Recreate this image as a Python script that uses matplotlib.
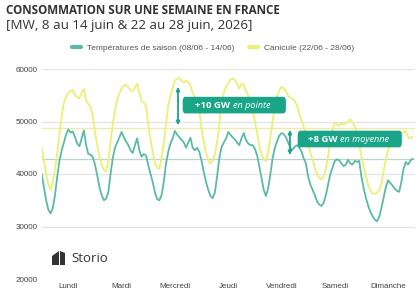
"""Consommation électrique sur une semaine en France : saison vs canicule."""

import matplotlib
matplotlib.use("Agg")
import matplotlib.pyplot as plt
from matplotlib.patches import FancyBboxPatch, Polygon

# --- données (MW, pas horaire, lundi 0h -> dimanche 23h) ---
SAISON = [
    40000, 37500, 35000, 33200, 32500, 33500, 36000, 39500, 42500, 44500, 46000, 47500,
    48500, 47900, 48100, 47000, 45800, 45300, 46800, 48300, 45500, 43800, 43700, 43200,  # lundi
    41800, 39800, 37500, 36000, 35000, 35300, 36500, 40000, 43000, 45000, 46000, 47000,
    48000, 47000, 46200, 45500, 44500, 44000, 45500, 46800, 44500, 43300, 43800, 43500,  # mardi
    41700, 40000, 38500, 36500, 35200, 35000, 36000, 38500, 42000, 44200, 45800, 46800,
    48200, 47500, 47000, 46500, 46000, 45000, 46000, 46900, 45000, 44500, 45000, 44200,  # mercredi
    42500, 40400, 38500, 37000, 35800, 35400, 36500, 39500, 43000, 45100, 46000, 46700,
    48000, 47500, 47000, 46600, 46000, 45500, 46800, 47800, 46500, 45800, 45500, 45500,  # jeudi
    44800, 43600, 41500, 39200, 37000, 35800, 37300, 40000, 43000, 45000, 46200, 47300,
    47800, 47600, 47000, 46000, 45000, 44600, 45200, 45500, 45000, 44300, 43000, 42000,  # vendredi
    39500, 38000, 37000, 36000, 34800, 34200, 33900, 34500, 36000, 38000, 40000, 41200,
    42500, 42800, 42600, 42000, 41500, 41800, 42700, 42000, 41800, 42500, 42300, 42500,  # samedi
    39500, 37300, 35500, 34000, 32800, 32000, 31300, 31000, 31800, 33500, 35500, 37500,
    38800, 38300, 37800, 37200, 36800, 36600, 38500, 41000, 42300, 41800, 42500, 42900,  # dimanche
]
CANICULE = [
    45000, 42500, 40000, 38000, 37000, 38500, 41000, 44000, 47500, 51000, 53500, 54800,
    55500, 55800, 56000, 55000, 54600, 54400, 55500, 56200, 54000, 53300, 52800, 51000,  # lundi
    48000, 45500, 43500, 41800, 40800, 40500, 42500, 46000, 49500, 52000, 54200, 55400,
    56300, 56900, 57000, 56500, 56000, 55800, 56500, 57200, 55500, 53800, 53600, 53000,  # mardi
    49300, 46500, 44200, 42100, 41200, 41000, 43000, 46000, 49500, 53100, 55000, 56300,
    57900, 58100, 58300, 57800, 57400, 57800, 57500, 56800, 55400, 54500, 53300, 52000,  # mercredi
    48500, 46200, 44000, 42700, 42000, 42500, 43800, 46000, 49500, 53500, 55500, 56600,
    57300, 58000, 58200, 57900, 57200, 56300, 57200, 57000, 55900, 55000, 53500, 52200,  # jeudi
    50000, 48000, 45200, 43800, 42800, 42500, 44200, 47000, 50000, 53000, 54800, 55900,
    56600, 56300, 55800, 54900, 54500, 54300, 53900, 53000, 51500, 50200, 49000, 47500,  # vendredi
    45500, 44000, 42800, 41200, 40000, 39200, 39000, 39500, 41000, 43500, 46500, 48500,
    49800, 49500, 49200, 49600, 49400, 49700, 50000, 50400, 49800, 49200, 47500, 45500,  # samedi
    43500, 41500, 39500, 38000, 37000, 36300, 36200, 36500, 36900, 38200, 40500, 42800,
    44500, 45500, 46500, 47000, 47200, 47500, 47800, 48000, 48200, 47000, 46800, 47100,  # dimanche
]
MOYENNE_SAISON = 42800
MOYENNE_CANICULE = 48800

JOURS = ["Lundi", "Mardi", "Mercredi", "Jeudi", "Vendredi", "Samedi", "Dimanche"]
Y_TICKS = [20000, 30000, 40000, 50000, 60000]

LABEL_SAISON = "Températures de saison (08/06 - 14/06)"
LABEL_CANICULE = "Canicule (22/06 - 28/06)"

# écart en pointe (mercredi ~13h) et en moyenne (vendredi ~16h)
POINTE_H, POINTE_BAS, POINTE_HAUT = 61.4, 49300, 56600
MOYENNE_H, MOYENNE_BAS, MOYENNE_HAUT = 111.8, 43600, 48400

TEAL = "#5bbaa6"
YELLOW = "#ebf075"
BADGE = "#1aa589"
GRID = "#e3e3e3"
TXT = "#444444"

W, H = 420, 295


def badge(ax, x0, x1, y0, y1, split, bold, italic):
    box = FancyBboxPatch((x0, y0), x1 - x0, y1 - y0,
                         boxstyle="round,pad=0,rounding_size=1.2",
                         mutation_aspect=700, fc=BADGE, ec="none", zorder=5)
    ax.add_patch(box)
    ym = (y0 + y1) / 2
    ax.text(split - 0.6, ym, bold, ha="right", va="center", color="white",
            fontsize=6.8, fontweight="bold", family="Open Sans", zorder=6)
    ax.text(split + 0.6, ym, italic, ha="left", va="center", color="white",
            fontsize=6.6, style="italic", family="Open Sans", zorder=6)


def main() -> None:
    fig = plt.figure(figsize=(W / 100, H / 100), dpi=100)
    fig.patch.set_facecolor("white")
    ax = fig.add_axes([41.7 / W, 16 / H, 373 / W, 210 / H])

    hours = list(range(len(SAISON)))
    for v in Y_TICKS:
        ax.axhline(v, color=GRID, lw=0.9, zorder=0)
    ax.axhline(MOYENNE_CANICULE, color="#f1e9a6", lw=0.9, zorder=1)
    ax.axhline(MOYENNE_SAISON, color="#bcd3cc", lw=0.9, zorder=1)

    ax.plot(hours, CANICULE, color=YELLOW, lw=1.3, zorder=3, label=LABEL_CANICULE)
    ax.plot(hours, SAISON, color=TEAL, lw=1.3, zorder=4, label=LABEL_SAISON)

    ax.set_xlim(0, 168)
    ax.set_ylim(20000, 60000)
    ax.set_yticks(Y_TICKS, labels=[str(v) for v in Y_TICKS])
    ax.set_xticks([12 + 24 * i for i in range(len(JOURS))], labels=JOURS)
    ax.tick_params(length=0, labelsize=5.8, colors=TXT, pad=3)
    for lab in ax.get_xticklabels() + ax.get_yticklabels():
        lab.set_family("Liberation Sans")
    for s in ax.spines.values():
        s.set_visible(False)

    # flèches + badges
    for h, lo, hi in ((POINTE_H, POINTE_BAS, POINTE_HAUT), (MOYENNE_H, MOYENNE_BAS, MOYENNE_HAUT)):
        ax.annotate("", xy=(h, hi), xytext=(h, lo),
                    arrowprops=dict(arrowstyle="<|-|>", color=BADGE, lw=1.3,
                                    mutation_scale=5, shrinkA=0, shrinkB=0), zorder=6)
    badge(ax, 63.5, 110, 51540, 54700, 85.5, "+10 GW", "en pointe")
    badge(ax, 115.3, 162.2, 45080, 48250, 133.7, "+8 GW", "en moyenne")

    # légende
    handles, labels = ax.get_legend_handles_labels()
    leg = fig.legend(handles[::-1], labels[::-1], loc="center", ncol=2,
                     bbox_to_anchor=(213 / W, 1 - 48 / H), frameon=False,
                     handlelength=1.1, handletextpad=0.7, columnspacing=1.7,
                     prop={"family": "Liberation Sans", "size": 6.0})
    for line in leg.get_lines():
        line.set_linewidth(3)
        line.set_solid_capstyle("round")
    for t in leg.get_texts():
        t.set_color("#555555")

    # titres
    fig.text(6 / W, 1 - 11 / H, "CONSOMMATION SUR UNE SEMAINE EN FRANCE",
             fontsize=8.4, fontweight="bold", family="Open Sans", color="#333333",
             va="center", ha="left")
    fig.text(6 / W, 1 - 25 / H, "[MW, 8 au 14 juin & 22 au 28 juin, 2026]",
             fontsize=9.6, family="Open Sans", color="#333333", va="center", ha="left")

    # logo Storio
    def px(x, y):
        return (x / W, 1 - y / H)
    fig.patches.append(Polygon([px(52, 256), px(59, 251), px(59, 265), px(52, 265)],
                               closed=True, fc="#333333", ec="none",
                               transform=fig.transFigure, figure=fig))
    fig.patches.append(Polygon([px(60, 251), px(65, 253), px(65, 265), px(60, 265)],
                               closed=True, fc="#333333", ec="none",
                               transform=fig.transFigure, figure=fig))
    fig.text(71 / W, 1 - 258.5 / H, "Storio", fontsize=9.5, family="Open Sans",
             color="#333333", va="center", ha="left")

    fig.savefig("out.png", dpi=100, facecolor="white")
    plt.close(fig)


if __name__ == "__main__":
    main()
